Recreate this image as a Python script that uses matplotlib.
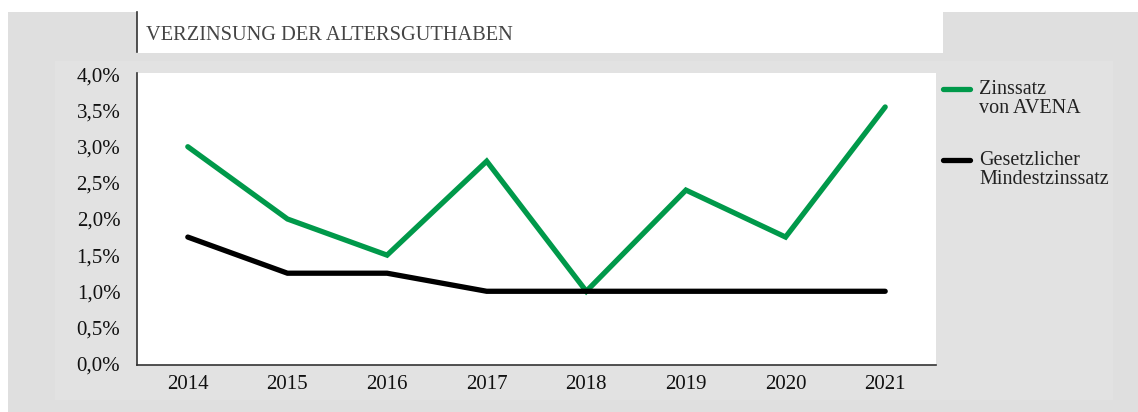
import matplotlib.pyplot as plt
from matplotlib.patches import Rectangle
from matplotlib.lines import Line2D

years = [2014, 2015, 2016, 2017, 2018, 2019, 2020, 2021]
avena = [3.0, 2.0, 1.5, 2.8, 1.0, 2.4, 1.75, 3.55]
minimum = [1.75, 1.25, 1.25, 1.0, 1.0, 1.0, 1.0, 1.0]
yticks = [0.0, 0.5, 1.0, 1.5, 2.0, 2.5, 3.0, 3.5, 4.0]

green = "#00994a"
W, H = 1138, 412

plt.rcParams['font.family'] = ['Liberation Serif', 'DejaVu Serif']

fig = plt.figure(figsize=(W / 100, H / 100), dpi=100)
fig.patch.set_facecolor("white")


def box(x0, y0, x1, y1, color, z=-5):
    # pixel coords (top-left origin) -> figure fraction
    fig.patches.append(Rectangle((x0 / W, 1 - y1 / H), (x1 - x0) / W, (y1 - y0) / H,
                                 transform=fig.transFigure, facecolor=color,
                                 edgecolor="none", zorder=z))


box(8, 12, W, H, "#dfdfdf", -5)
box(55, 61, 1113, 400, "#e2e2e2", -4)
box(137, 12, 943, 53, "white", -3)
fig.add_artist(Line2D([137 / W, 137 / W], [1 - 12 / H, 1 - 52 / H],
                      transform=fig.transFigure, color="#333333", lw=1.2))
fig.text(146 / W, 1 - 35 / H, "VERZINSUNG DER ALTERSGUTHABEN", fontsize=14.7,
         color="#444444", va="center", ha="left")

ax = fig.add_axes([137 / W, 1 - 365 / H, (936 - 137) / W, (365 - 73) / H])
ax.set_facecolor("white")
ax.plot(years, avena, color=green, lw=3.8, solid_capstyle="round",
        solid_joinstyle="miter", label="Zinssatz\nvon AVENA")
ax.plot(years, minimum, color="black", lw=3.8, solid_capstyle="round",
        solid_joinstyle="miter", label="Gesetzlicher\nMindestzinssatz")

ax.set_xlim(2013.49, 2021.51)
ax.set_ylim(-0.02, 4.02)
ax.set_xticks(years)
ax.set_xticklabels([str(y) for y in years])
ax.set_yticks(yticks)
ax.set_yticklabels([f"{v:.1f}%".replace(".", ",") for v in yticks])
ax.tick_params(length=0, labelsize=15, colors="#111111", pad=12)
ax.tick_params(axis="x", pad=7)
for s in ["top", "right"]:
    ax.spines[s].set_visible(False)
for s in ["left", "bottom"]:
    ax.spines[s].set_color("#333333")
    ax.spines[s].set_linewidth(1.2)

fig.add_artist(Line2D([943 / W, 970 / W], [1 - 89 / H, 1 - 89 / H],
                      transform=fig.transFigure, color=green, lw=3.8,
                      solid_capstyle="round"))
fig.text(979 / W, 1 - 99 / H, "Zinssatz\nvon AVENA", fontsize=14.5, color="#222222",
         va="center", ha="left", linespacing=0.95)
fig.add_artist(Line2D([943 / W, 970 / W], [1 - 160 / H, 1 - 160 / H],
                      transform=fig.transFigure, color="black", lw=3.8,
                      solid_capstyle="round"))
fig.text(979 / W, 1 - 170 / H, "Gesetzlicher\nMindestzinssatz", fontsize=14.5,
         color="#222222", va="center", ha="left", linespacing=0.95)

fig.savefig("out.png", dpi=100)
